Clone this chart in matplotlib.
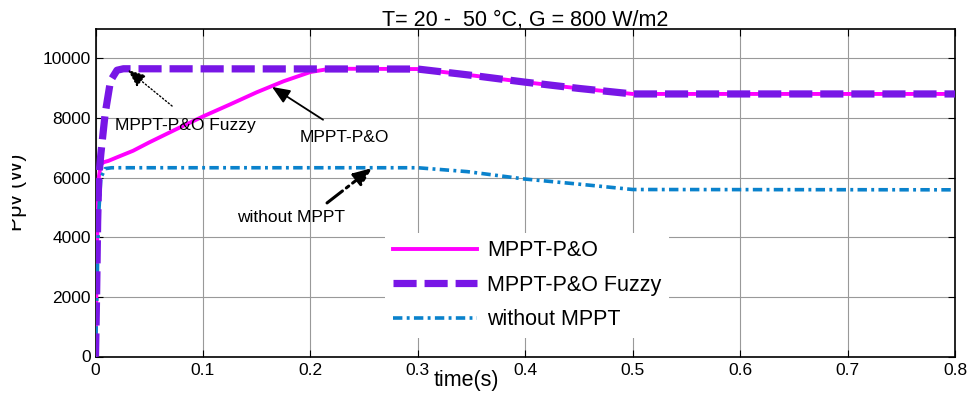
import matplotlib
matplotlib.use("Agg")
import matplotlib.pyplot as plt
from matplotlib.patches import Rectangle

plt.rcParams['font.family'] = ['Liberation Sans', 'DejaVu Sans']

# ---- data ----
t_po = [0, 0.001, 0.002, 0.003, 0.005, 0.008, 0.012, 0.02, 0.035, 0.05, 0.075,
        0.1, 0.125, 0.15, 0.175, 0.2, 0.215, 0.23, 0.3, 0.35, 0.4, 0.45, 0.5, 0.8]
p_po = [0, 2500, 4800, 6000, 6450, 6520, 6560, 6680, 6900, 7180, 7620,
        8050, 8450, 8860, 9230, 9540, 9630, 9650, 9640, 9430, 9200, 8990, 8805, 8805]

t_fz = [0, 0.001, 0.002, 0.003, 0.005, 0.009, 0.014, 0.02, 0.026,
        0.3, 0.35, 0.4, 0.45, 0.5, 0.8]
p_fz = [0, 2000, 4500, 6000, 6800, 8150, 9250, 9600, 9650,
        9640, 9430, 9200, 8990, 8805, 8805]

t_wo = [0, 0.001, 0.002, 0.003, 0.005, 0.009, 0.015, 0.3, 0.346, 0.4, 0.45, 0.5, 0.8]
p_wo = [0, 1500, 3300, 4800, 6000, 6300, 6330, 6330, 6200, 5950, 5780, 5600, 5590]

labels = ['MPPT-P&O', 'MPPT-P&O Fuzzy', 'without MPPT']
title = 'T= 20 -  50 °C, G = 800 W/m2'
xticks = [0, 0.1, 0.2, 0.3, 0.4, 0.5, 0.6, 0.7, 0.8]
yticks = [0, 2000, 4000, 6000, 8000, 10000]

fig = plt.figure(figsize=(9.69, 3.98), dpi=100)
ax = fig.add_axes([95.5/969, (398-356.5)/398, 859.5/969, 328/398])

ax.plot(t_po, p_po, color='#FF00FF', lw=2.8, ls='-', label=labels[0], zorder=3)
ax.plot(t_fz, p_fz, color='#7816E6', lw=5.2, ls=(0, (3.2, 1.1)), label=labels[1], zorder=4)
ax.plot(t_wo, p_wo, color='#0A82CC', lw=2.6, ls=(0, (2.6, 1.2, 0.8, 1.2)), label=labels[2], zorder=3)

ax.set_xlim(0, 0.8)
ax.set_ylim(0, 11000)
ax.set_xticks(xticks)
ax.set_xticklabels(['0', '0.1', '0.2', '0.3', '0.4', '0.5', '0.6', '0.7', '0.8'])
ax.set_yticks(yticks)
ax.set_yticklabels([str(v) for v in yticks])
ax.grid(True, color='#999999', lw=0.8)
ax.set_axisbelow(True)
ax.tick_params(direction='in', length=5, top=True, right=True, labelsize=12.5,
               width=0.8, colors='black')
ax.tick_params(axis='y', pad=3.5)
ax.tick_params(axis='x', pad=5)
for s in ax.spines.values():
    s.set_linewidth(1.2)

ax.set_title(title, fontsize=15.5, pad=1.5)
ax.set_xlabel('time(s)', fontsize=15.5)
ax.xaxis.set_label_coords(0.432, -0.04)
ax.set_ylabel('Ppv (W)', fontsize=15.5)
ax.yaxis.set_label_coords(-0.08, 0.5)
# the reference image is cropped through the y label
fig.patches.append(Rectangle((0, 0), 12/969, 1, transform=fig.transFigure,
                             facecolor='white', edgecolor='none', zorder=10))

# annotations
hs = '-|>,head_length=0.6,head_width=0.25'
ax.text(0.018, 7760, 'MPPT-P&O Fuzzy', fontsize=12.5, ha='left', va='center', zorder=6)
ax.annotate('', xy=(0.0302, 9610), xytext=(0.0713, 8400),
            arrowprops=dict(arrowstyle=hs, mutation_scale=18, color='black', lw=1,
                            ls=':', shrinkA=0, shrinkB=0), zorder=6)
ax.text(0.232, 7360, 'MPPT-P&O', fontsize=12.5, ha='center', va='center', zorder=6)
ax.annotate('', xy=(0.1643, 9040), xytext=(0.2118, 7940),
            arrowprops=dict(arrowstyle=hs, mutation_scale=18, color='black', lw=1.3,
                            shrinkA=0, shrinkB=0), zorder=6)
ax.text(0.182, 4645, 'without MPPT', fontsize=12.5, ha='center', va='center', zorder=6)
ax.annotate('', xy=(0.2573, 6320), xytext=(0.2155, 5150),
            arrowprops=dict(arrowstyle=hs, mutation_scale=18, color='black', lw=2.2,
                            ls='-.', shrinkA=0, shrinkB=0), zorder=6)

leg = ax.legend(loc='upper left', bbox_to_anchor=(0.337, 0.377), borderaxespad=0,
                fontsize=15.5, handlelength=3.9, handletextpad=0.5, labelspacing=0.62,
                borderpad=0.35, frameon=True, fancybox=False, framealpha=1,
                facecolor='white', edgecolor='none')
leg.set_zorder(5)

fig.savefig('out.png', dpi=100)
